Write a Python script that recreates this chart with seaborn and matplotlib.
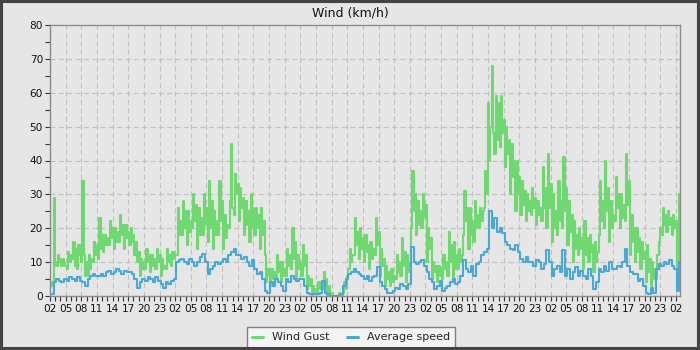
import numpy as np
import pandas as pd
import matplotlib
matplotlib.use("Agg")
import matplotlib.pyplot as plt
from matplotlib.patches import Rectangle
from matplotlib.lines import Line2D
from matplotlib.ticker import MultipleLocator, FixedLocator, FixedFormatter
import seaborn as sns

# ---- data ----
# wind gust: four samples per hour, from ~02:10 on day 1
gust = [
    3, 4, 29, 10,   9, 12, 10, 11,   9, 11, 10, 9,    8, 13, 10, 12,
    11, 16, 9, 14,  8, 15, 12, 10,   34, 12, 6, 10,   6, 12, 8, 11,
    10, 16, 12, 15, 11, 23, 14, 18,  13, 18, 15, 17,  15, 22, 17, 20,
    14, 20, 16, 19, 16, 24, 18, 21,  14, 21, 17, 19,  15, 20, 16, 18,
    12, 16, 10, 13, 6, 11, 8, 10,    8, 14, 10, 12,   7, 12, 9, 11,
    8, 14, 10, 12,  6, 11, 8, 9,     8, 14, 10, 12,   9, 13, 11, 12,
    12, 26, 18, 22, 18, 28, 20, 25,  15, 25, 19, 22,  20, 30, 22, 27,
    14, 26, 18, 23, 18, 30, 21, 26,  16, 34, 20, 28,  14, 25, 18, 22,
    18, 34, 22, 28, 14, 24, 17, 21,  20, 28, 45, 26,  24, 36, 30, 33,
    22, 32, 26, 29, 18, 28, 21, 25,  16, 30, 20, 26,  18, 26, 20, 24,
    14, 26, 18, 22, 12, 4, 8, 6,     3, 8, 5, 7,      5, 12, 7, 10,
    4, 10, 6, 8,    6, 14, 9, 12,    8, 20, 11, 16,   5, 12, 8, 10,
    6, 15, 9, 12,   2, 6, 3, 5,      0, 3, 1, 2,      1, 4, 2, 3,
    2, 7, 3, 5,     0, 3, 1, 1,      0, 0, 0, 0,      0, 1, 0, 0,
    1, 4, 2, 6,     8, 14, 10, 12,   12, 23, 15, 19,  11, 20, 14, 17,
    10, 18, 13, 15, 8, 16, 11, 14,   12, 23, 15, 19,  6, 14, 9, 11,
    3, 9, 5, 7,     3, 8, 4, 6,      5, 12, 7, 10,    6, 17, 9, 13,
    4, 12, 7, 10,   20, 37, 25, 30,  18, 28, 21, 25,  20, 30, 23, 27,
    10, 20, 14, 17, 5, 10, 7, 9,     4, 9, 6, 8,      5, 12, 8, 10,
    6, 19, 10, 15,  5, 16, 8, 12,    8, 14, 10, 12,   18, 31, 22, 26,
    14, 26, 18, 22, 16, 28, 20, 24,  20, 26, 22, 25,  26, 37, 30, 57,
    40, 50, 68, 48, 42, 59, 46, 57,  44, 59, 48, 52,  38, 50, 42, 46,
    30, 45, 35, 40, 25, 40, 30, 35,  24, 34, 27, 31,  22, 30, 25, 28,
    24, 32, 26, 29, 21, 28, 24, 26,  22, 38, 26, 32,  20, 42, 26, 33,
    16, 30, 20, 25, 18, 34, 22, 28,  20, 41, 25, 32,  15, 28, 19, 24,
    10, 22, 14, 18, 12, 20, 14, 17,  8, 22, 12, 17,   10, 18, 13, 15,
    7, 16, 10, 13,  18, 34, 22, 28,  20, 40, 25, 32,  16, 28, 20, 24,
    22, 35, 26, 30, 20, 30, 23, 27,  22, 42, 27, 34,  12, 24, 16, 20,
    10, 20, 13, 17, 8, 16, 11, 13,   4, 15, 7, 11,    3, 10, 5, 8,
    5, 12, 16, 20,  18, 26, 21, 24,  19, 25, 21, 23,  18, 24, 20, 22,
    4, 10, 30, 28,
]
# average speed: two samples per hour, same start
avg = [
    0.5, 4, 5, 4.5, 4, 5, 4.5, 5.5, 5, 4.5, 5.5, 4.5,
    4, 3, 5, 6, 6.5, 6, 6, 6.5, 6, 7, 7.5, 6.5,
    7, 8, 7.5, 6.5, 7.5, 7, 7, 6.5, 5, 2.5, 4, 5,
    4.5, 5.5, 5, 4, 5.5, 4.5, 3.5, 2.5, 4, 3.5, 4.5, 5,
    10, 10.5, 11, 10, 9.5, 11, 10, 9, 10, 11.5, 12.5, 10,
    6.5, 8, 9, 10, 9.5, 10, 11, 10, 12, 13, 14, 12,
    12, 11, 11.5, 10, 9, 10.5, 8, 6.5, 7, 5, 1.5, 1,
    4, 3, 5, 4, 3, 1.5, 5, 4, 6, 5, 4.5, 5,
    5, 3, 1, 0.5, 0.5, 0.5, 0.5, 1, 4.5, 1, 0.5, 0,
    0, 0, 0, 0.5, 3, 5, 6.5, 7, 8, 7, 6.5, 6,
    5, 6, 4.5, 5.5, 6, 8.5, 4, 3, 2, 1, 1, 1.5,
    2.5, 2, 3.5, 3, 2, 3.5, 14.5, 10, 9.5, 10, 10.5, 9,
    7, 5, 4, 2, 3, 4.5, 1.5, 2.5, 3, 4, 5, 3.5,
    4, 6, 10.5, 8, 7, 9, 6, 9.5, 10, 12, 13, 14,
    25, 20, 23, 19, 20, 18.5, 16, 15, 14, 13.5, 15, 13,
    11, 10, 11.5, 10, 10, 9, 10.5, 10, 8, 9.5, 13.5, 10,
    6, 8, 9, 7, 13.5, 6, 8, 5, 7, 8.5, 6, 7.5,
    6, 5, 8, 6, 2, 4, 8, 7, 9, 7.5, 10, 8,
    8, 9, 8.5, 10, 14, 9, 7, 6.5, 6.5, 4.5, 5, 3,
    1, 0.5, 2.5, 1, 8, 9.5, 9, 10, 9.5, 10.5, 9, 8,
    1.5, 10,
]
hour_labels = ["02", "05", "08", "11", "14", "17", "20", "23"] * 5 + ["02"]
series_names = ["Wind Gust", "Average speed"]

# sample times, in hours after the first 02:00 tick
t_gust = np.arange(len(gust)) * 0.25 + 0.2
t_avg = np.arange(len(avg)) * 0.5 + 0.2

df = pd.DataFrame({
    "t": np.concatenate([t_gust, t_avg]),
    "v": np.concatenate([gust, avg]),
    "s": [series_names[0]] * len(gust) + [series_names[1]] * len(avg),
})

sns.set_theme(style="white")
plt.rcParams["font.family"] = ["DejaVu Sans"]

BG = "#e6e6e6"
fig = plt.figure(figsize=(7, 3.5), dpi=100, facecolor=BG)
ax = fig.add_axes([50 / 700, 54 / 350, 630 / 700, 271 / 350])
ax.set_facecolor(BG)

palette = {series_names[0]: "#70d870", series_names[1]: "#4aa8d8"}
sns.lineplot(data=df, x="t", y="v", hue="s", palette=palette, ax=ax,
             drawstyle="steps-post", estimator=None, linewidth=1.5,
             legend=False)

ax.set_xlim(0, 120.8)
ax.set_ylim(0, 80)
ax.set_xlabel("")
ax.set_ylabel("")

ax.yaxis.set_major_locator(MultipleLocator(10))
ax.yaxis.set_minor_locator(MultipleLocator(5))
ax.xaxis.set_major_locator(FixedLocator(np.arange(len(hour_labels)) * 3))
ax.xaxis.set_major_formatter(FixedFormatter(hour_labels))
ax.xaxis.set_minor_locator(MultipleLocator(1))

ax.tick_params(axis="both", which="both", direction="out", length=3.5,
               width=0.8, color="#333333", labelsize=7.6, pad=1.5,
               labelcolor="#111111")
ax.tick_params(axis="x", which="major", pad=2)
ax.tick_params(axis="both", which="both", bottom=True, left=True)

ax.grid(True, which="major", color="#c0c0c0", linestyle=(0, (4.5, 3)),
        linewidth=0.8)
for sp in ax.spines.values():
    sp.set_visible(True)
    sp.set_color("#8c8c8c")
    sp.set_linewidth(1.0)

fig.text(0.5, 1 - 13 / 350, "Wind (km/h)", ha="center", va="center",
         fontsize=9, color="#111111")

handles = [Line2D([], [], color=palette[n], linewidth=2.2) for n in series_names]
leg = fig.legend(handles, series_names, loc="lower center",
                 bbox_to_anchor=(351 / 700, 2 / 350), ncol=2, fontsize=8,
                 frameon=True, fancybox=False, framealpha=1,
                 facecolor="#f4f4f4", edgecolor="#808080",
                 handlelength=1.0, handletextpad=0.8, columnspacing=1.5,
                 borderpad=0.5, borderaxespad=0)
leg.get_frame().set_linewidth(1.0)

fig.patches.append(Rectangle((0, 0), 1, 1, transform=fig.transFigure,
                             fill=False, edgecolor="#444444", linewidth=4.4,
                             zorder=10))

fig.savefig("out.png", dpi=100, facecolor=BG)
